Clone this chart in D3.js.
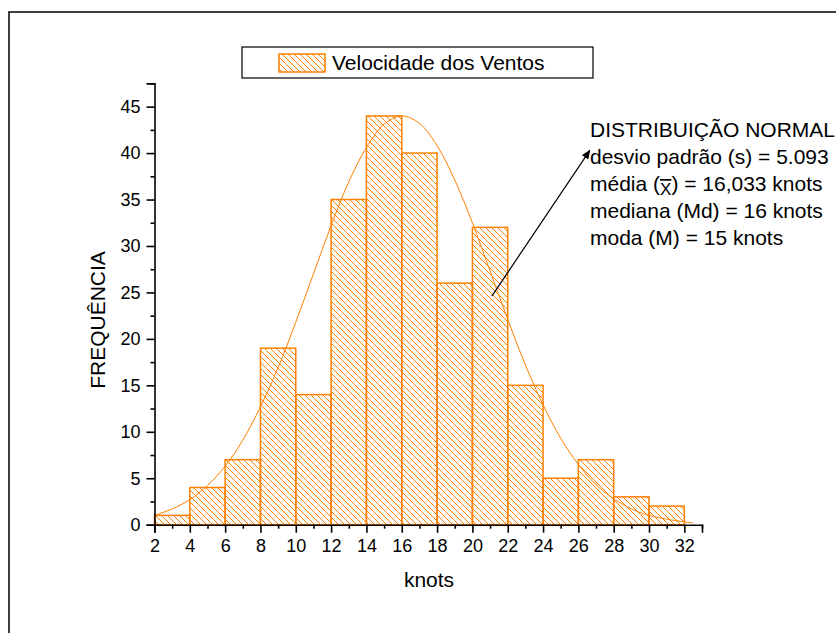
<!DOCTYPE html>
<html lang="pt">
<head>
<meta charset="UTF-8">
<title>Velocidade dos Ventos</title>
<style>
  body { margin: 0; background: #fff; }
  svg { font-family: "Liberation Sans", Arial, sans-serif; }
</style>
</head>
<body>
<svg></svg>
<script src="https://d3js.org/d3.v7.min.js"></script>
<script>
// class bins (knots) and frequencies
var binStart = [2, 4, 6, 8, 10, 12, 14, 16, 18, 20, 22, 24, 26, 28, 30];
var binEnd   = [4, 6, 8, 10, 12, 14, 16, 18, 20, 22, 24, 26, 28, 30, 32];
var freq     = [1, 4, 7, 19, 14, 35, 44, 40, 26, 32, 15, 5, 7, 3, 2];

// fitted normal curve
var curveX = [2, 3, 4, 5, 6, 7, 8, 9, 10, 11, 12, 13, 14, 15, 16, 17, 18, 19, 20, 21, 22, 23, 24, 25, 26, 27, 28, 29, 30, 31, 32, 32.5];
var curveY = [1.0, 1.7, 2.7, 4.2, 6.3, 9.1, 12.7, 16.9, 21.8, 27.0, 32.2, 36.9, 40.6, 43.1, 44.0, 43.2, 40.8, 37.1, 32.5, 27.3, 22.1, 17.2, 12.9, 9.3, 6.5, 4.3, 2.8, 1.7, 1.0, 0.6, 0.3, 0.2];

var xTicks = [2, 4, 6, 8, 10, 12, 14, 16, 18, 20, 22, 24, 26, 28, 30, 32];
var yTicks = [0, 5, 10, 15, 20, 25, 30, 35, 40, 45];

var legendLabel = "Velocidade dos Ventos";
var statLines = [
  "DISTRIBUIÇÃO NORMAL",
  "desvio padrão (s) = 5.093",
  "média (X) = 16,033 knots",
  "mediana (Md) = 16 knots",
  "moda (M) = 15 knots"
];

var orange = "#ff8000";
var svgWidth = 836, svgHeight = 633;

var svg = d3.select("svg")
  .attr("width", svgWidth)
  .attr("height", svgHeight);

// page frame (only top/left visible)
svg.append("rect")
  .attr("x", 9).attr("y", 12)
  .attr("width", 900).attr("height", 700)
  .attr("fill", "none")
  .attr("stroke", "#000")
  .attr("stroke-width", 1.5);

var defs = svg.append("defs");
defs.append("pattern")
  .attr("id", "hatch")
  .attr("patternUnits", "userSpaceOnUse")
  .attr("width", 6).attr("height", 6)
  .append("path")
  .attr("d", "M-1,-1L7,7M-1,5L1,7M5,-1L7,1")
  .attr("stroke", orange)
  .attr("stroke-width", 1);

var x = d3.scaleLinear().domain([2, 33]).range([154.5, 702]);
var y = d3.scaleLinear().domain([0, 47.5]).range([524.7, 83.4]);

// bars
svg.append("g").selectAll("rect")
  .data(freq)
  .enter().append("rect")
  .attr("x", function(d, i) { return x(binStart[i]); })
  .attr("y", function(d) { return y(d); })
  .attr("width", function(d, i) { return x(binEnd[i]) - x(binStart[i]); })
  .attr("height", function(d) { return y(0) - y(d); })
  .attr("fill", "url(#hatch)")
  .attr("stroke", orange)
  .attr("stroke-width", 1.5);

// normal curve
var line = d3.line()
  .x(function(d, i) { return x(curveX[i]); })
  .y(function(d) { return y(d); })
  .curve(d3.curveCatmullRom);
svg.append("path")
  .datum(curveY)
  .attr("fill", "none")
  .attr("stroke", orange)
  .attr("stroke-width", 1)
  .attr("d", line);

// axes
svg.append("g")
  .attr("transform", "translate(0," + y(0) + ")")
  .call(d3.axisBottom(x).tickValues(xTicks).tickSize(8).tickPadding(7).tickFormat(d3.format("d")));
svg.append("g")
  .attr("transform", "translate(0," + y(0) + ")")
  .call(d3.axisBottom(x).tickValues(d3.range(3, 34, 2)).tickSize(4).tickFormat(""))
  .select(".domain").remove();

svg.append("g")
  .attr("transform", "translate(" + x(2) + ",0)")
  .call(d3.axisLeft(y).tickValues(yTicks).tickSize(8).tickPadding(6));
svg.append("g")
  .attr("transform", "translate(" + x(2) + ",0)")
  .call(d3.axisLeft(y).tickValues(d3.range(2.5, 48, 5)).tickSize(4).tickFormat(""))
  .select(".domain").remove();

svg.selectAll(".tick text")
  .attr("font-size", 18)
  .attr("font-family", "Liberation Sans, Arial, sans-serif")
  .attr("fill", "#000");
svg.selectAll(".domain, .tick line")
  .attr("stroke", "#000")
  .attr("stroke-width", 1.6);

// axis titles
svg.append("text")
  .attr("x", 429).attr("y", 587)
  .attr("text-anchor", "middle")
  .attr("font-size", 21)
  .text("knots");
svg.append("text")
  .attr("transform", "translate(105,320) rotate(-90)")
  .attr("text-anchor", "middle")
  .attr("font-size", 21)
  .text("FREQUÊNCIA");

// legend
var lg = svg.append("g");
lg.append("rect")
  .attr("x", 242).attr("y", 47)
  .attr("width", 351).attr("height", 31)
  .attr("fill", "#fff")
  .attr("stroke", "#000")
  .attr("stroke-width", 1.2);
lg.append("rect")
  .attr("x", 279).attr("y", 54)
  .attr("width", 46).attr("height", 18)
  .attr("fill", "url(#hatch)")
  .attr("stroke", orange)
  .attr("stroke-width", 1.5);
lg.append("text")
  .attr("x", 332).attr("y", 70)
  .attr("font-size", 21)
  .text(legendLabel);

// arrow annotation
defs.append("marker")
  .attr("id", "arrow")
  .attr("viewBox", "0 0 10 10")
  .attr("refX", 9).attr("refY", 5)
  .attr("markerWidth", 8).attr("markerHeight", 8)
  .attr("orient", "auto")
  .append("path")
  .attr("d", "M0,1L10,5L0,9z")
  .attr("fill", "#000");
svg.append("line")
  .attr("x1", x(21.1)).attr("y1", y(24.6))
  .attr("x2", x(26.65)).attr("y2", y(40.3))
  .attr("stroke", "#000")
  .attr("stroke-width", 1.2)
  .attr("marker-end", "url(#arrow)");

// stats text
var st = svg.append("g");
statLines.forEach(function(s, i) {
  var t = st.append("text")
    .attr("x", 590).attr("y", 137 + i * 27)
    .attr("font-size", 21);
  if (s.indexOf("(X)") >= 0) {
    var parts = s.split("X");
    t.append("tspan").text(parts[0]);
    t.append("tspan")
      .attr("dy", 4)
      .attr("font-size", 17)
      .attr("text-decoration", "overline")
      .text("X");
    t.append("tspan").attr("dy", -4).text(parts[1]);
  } else {
    t.text(s);
  }
});
</script>
</body>
</html>
